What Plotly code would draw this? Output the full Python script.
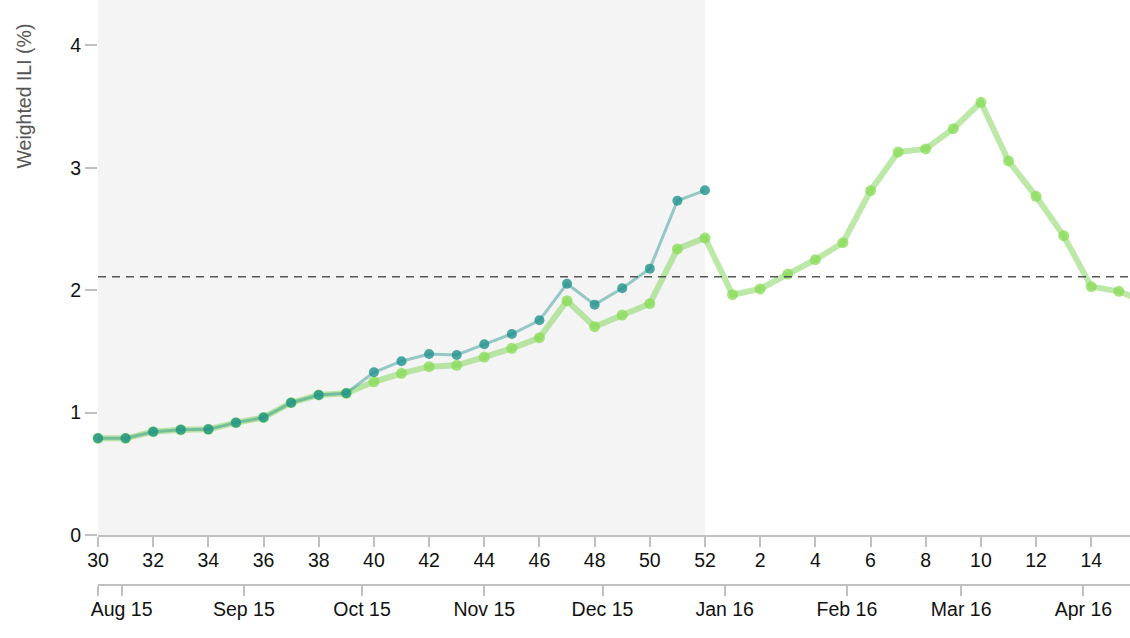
import pandas as pd
import plotly.graph_objects as go

# ---- data ----
season_start = "2015-07-26"          # start of MMWR week 30, 2015
weeks = [30, 31, 32, 33, 34, 35, 36, 37, 38, 39, 40, 41, 42, 43, 44, 45, 46, 47, 48, 49, 50, 51, 52,
         1, 2, 3, 4, 5, 6, 7, 8, 9, 10, 11, 12, 13, 14, 15, 16]
model_ili = [0.79, 0.79, 0.844, 0.86, 0.863, 0.918, 0.96, 1.081, 1.144, 1.158,
             1.252, 1.321, 1.375, 1.386, 1.454, 1.525, 1.612, 1.914, 1.702, 1.797,
             1.89, 2.337, 2.427,
             1.963, 2.01, 2.132, 2.249, 2.388, 2.813, 3.129, 3.154, 3.32, 3.535,
             3.056, 2.767, 2.445, 2.029, 1.991, 1.90]
observed_ili = [0.79, 0.79, 0.844, 0.86, 0.863, 0.918, 0.96, 1.081, 1.144, 1.158,
                1.329, 1.42, 1.479, 1.471, 1.558, 1.642, 1.754, 2.053, 1.882, 2.016,
                2.176, 2.731, 2.816]
baseline = 2.11
y_ticks = [0, 1, 2, 3, 4]
month_ticks = ["2015-08-01", "2015-09-01", "2015-10-01", "2015-11-01", "2015-12-01",
               "2016-01-01", "2016-02-01", "2016-03-01", "2016-04-01"]

start = pd.Timestamp(season_start)
dates = [start + pd.Timedelta(days=7 * i) for i in range(len(weeks))]
obs_dates = dates[:len(observed_ili)]
x_end = start + pd.Timedelta(days=261.83)

FONT = "Liberation Sans, Arial, Helvetica, sans-serif"

fig = go.Figure()

fig.add_trace(go.Scatter(
    x=dates, y=model_ili, mode="lines+markers",
    line=dict(color="rgba(122,209,81,0.5)", width=6),
    marker=dict(color="rgba(135,220,85,0.75)", size=11),
    cliponaxis=False, showlegend=False, hoverinfo="skip"))

fig.add_trace(go.Scatter(
    x=obs_dates, y=observed_ili, mode="lines+markers",
    line=dict(color="rgba(33,145,140,0.45)", width=3),
    marker=dict(color="rgba(33,145,140,0.8)", size=10),
    cliponaxis=False, showlegend=False, hoverinfo="skip"))

# dummy trace to bind the month axis
fig.add_trace(go.Scatter(
    x=[dates[0], dates[-1]], y=[None, None], xaxis="x2", mode="markers",
    showlegend=False, hoverinfo="skip"))

# shaded "past" region
fig.add_shape(type="rect", xref="x", yref="y domain",
              x0=dates[0], x1=dates[weeks.index(52)], y0=0, y1=1,
              fillcolor="#f4f4f4", line_width=0, layer="below")
# baseline
fig.add_shape(type="line", xref="x domain", yref="y", x0=0, x1=1,
              y0=baseline, y1=baseline,
              line=dict(color="#555555", width=1.5, dash="8px,6px"))

week_tickvals = [d for d, w in zip(dates, weeks) if w % 2 == 0]
week_ticktext = [str(w) for w in weeks if w % 2 == 0]

month_vals = [start] + [pd.Timestamp(m) for m in month_ticks]
month_text = [""] + [pd.Timestamp(m).strftime("%b %y") for m in month_ticks]

plot_h = 600
fig.update_layout(
    width=1130, height=638,
    margin=dict(l=98, r=0, t=0, b=638 - plot_h, autoexpand=False),
    paper_bgcolor="white", plot_bgcolor="white",
    font=dict(family=FONT, size=19.5, color="#111111"),
    xaxis=dict(type="date", range=[start, x_end], automargin=False,
               tickmode="array", tickvals=week_tickvals, ticktext=week_ticktext,
               ticks="outside", ticklen=10, tickwidth=2, tickcolor="#c0c0c0",
               ticklabelstandoff=-3,
               showline=True, linecolor="#c0c0c0", linewidth=2,
               showgrid=False, zeroline=False),
    xaxis2=dict(type="date", matches="x", overlaying="x", anchor="free",
                position=(plot_h - 585) / plot_h, side="bottom", automargin=False,
                tickmode="array", tickvals=month_vals, ticktext=month_text,
                ticks="outside", ticklen=10, tickwidth=2, tickcolor="#c0c0c0",
                ticklabelstandoff=-3,
                showline=True, linecolor="#c0c0c0", linewidth=2,
                showgrid=False, zeroline=False),
    yaxis=dict(range=[0, 535 / 122.4], domain=[(plot_h - 535) / plot_h, 1],
               automargin=False,
               tickmode="array", tickvals=y_ticks,
               ticks="outside", ticklen=12, tickwidth=2, tickcolor="#c0c0c0",
               showline=False, showgrid=False, zeroline=False),
)

fig.add_annotation(text="Weighted ILI (%)", textangle=-90,
                   xref="paper", yref="paper", x=0, y=1,
                   xanchor="left", yanchor="top", xshift=-88, yshift=-22,
                   showarrow=False, font=dict(family=FONT, size=19.5, color="#555555"))

fig.write_html("out.html", config={"displayModeBar": False},
               post_script="document.body.style.margin='0';")
